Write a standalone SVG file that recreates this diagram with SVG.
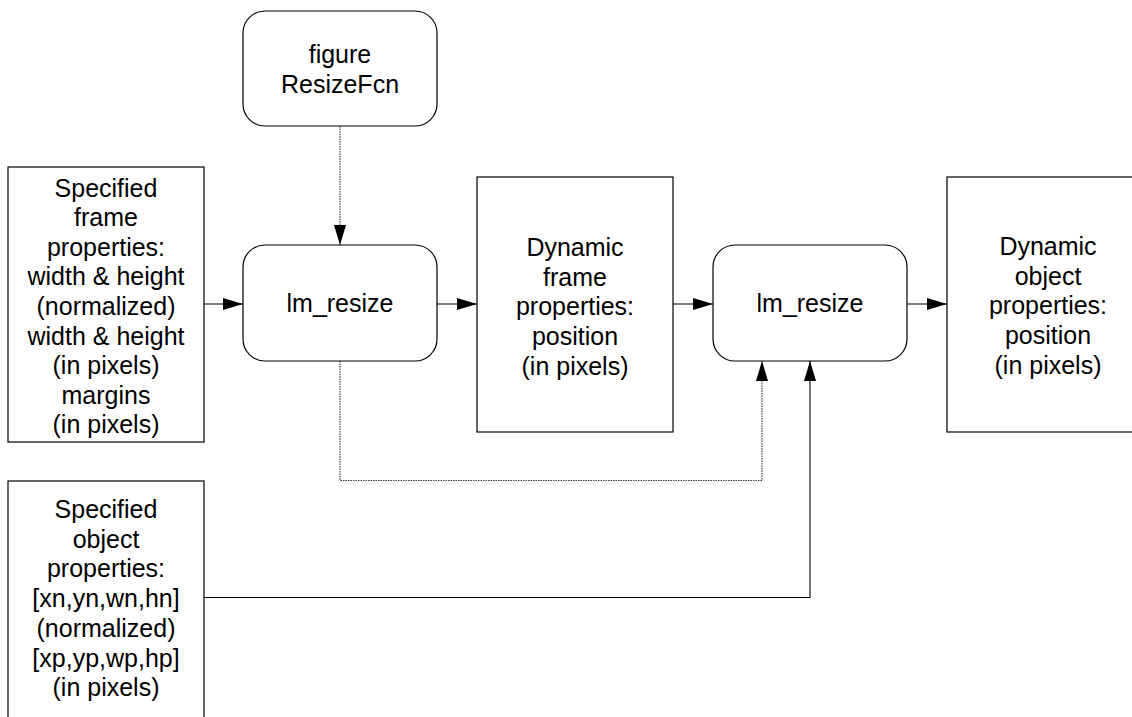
<svg xmlns="http://www.w3.org/2000/svg" width="1132" height="717" viewBox="0 0 1132 717">
<defs>
<style>
.box{fill:#fff;stroke:#000;stroke-width:1.2}
.t{font-family:"Liberation Sans",Arial,sans-serif;font-size:25px;fill:#000;text-anchor:middle}
.c{fill:none;stroke:#000;stroke-width:1.1}
.d{fill:none;stroke:#333;stroke-width:1.1;stroke-dasharray:1.5 1}
</style>
<marker id="ah" markerWidth="20" markerHeight="12" refX="20" refY="6" orient="auto" markerUnits="userSpaceOnUse">
<path d="M0,0 L20,6 L0,12 Z" fill="#000"/>
</marker>
</defs>
<rect width="1132" height="717" fill="#fff"/>
<g id="connectors">
<line class="d" x1="340" y1="126" x2="340" y2="245" marker-end="url(#ah)"/>
<line class="c" x1="204" y1="304" x2="243" y2="304" marker-end="url(#ah)"/>
<line class="c" x1="437" y1="304" x2="477" y2="304" marker-end="url(#ah)"/>
<line class="c" x1="673" y1="304" x2="713" y2="304" marker-end="url(#ah)"/>
<line class="c" x1="907" y1="304" x2="947" y2="304" marker-end="url(#ah)"/>
<polyline class="d" points="340,361 340,480.5 762,480.5 762,361" marker-end="url(#ah)"/>
<polyline class="c" points="204,597.5 810,597.5 810,361" marker-end="url(#ah)"/>
</g>
<g id="figure-resizefcn">
<rect class="box" x="243" y="11" width="194" height="115" rx="22"/>
<text class="t" x="340" y="63">figure<tspan x="340" dy="30">ResizeFcn</tspan></text>
</g>
<g id="specified-frame">
<rect class="box" x="8" y="167" width="196" height="275"/>
<text class="t" x="106" y="196.5">Specified<tspan x="106" dy="29.6">frame</tspan><tspan x="106" dy="29.6">properties:</tspan><tspan x="106" dy="29.6">width &amp; height</tspan><tspan x="106" dy="29.6">(normalized)</tspan><tspan x="106" dy="29.6">width &amp; height</tspan><tspan x="106" dy="29.6">(in pixels)</tspan><tspan x="106" dy="29.6">margins</tspan><tspan x="106" dy="29.6">(in pixels)</tspan></text>
</g>
<g id="lm-resize-1">
<rect class="box" x="243" y="245" width="194" height="116" rx="22"/>
<text class="t" x="340" y="312">lm_resize</text>
</g>
<g id="dynamic-frame">
<rect class="box" x="477" y="177" width="196" height="255"/>
<text class="t" x="575" y="256">Dynamic<tspan x="575" dy="29.7">frame</tspan><tspan x="575" dy="29.7">properties:</tspan><tspan x="575" dy="29.7">position</tspan><tspan x="575" dy="29.7">(in pixels)</tspan></text>
</g>
<g id="lm-resize-2">
<rect class="box" x="713" y="245" width="194" height="116" rx="22"/>
<text class="t" x="810" y="312">lm_resize</text>
</g>
<g id="dynamic-object">
<rect class="box" x="947" y="177" width="200" height="255"/>
<text class="t" x="1048" y="255">Dynamic<tspan x="1048" dy="29.7">object</tspan><tspan x="1048" dy="29.7">properties:</tspan><tspan x="1048" dy="29.7">position</tspan><tspan x="1048" dy="29.7">(in pixels)</tspan></text>
</g>
<g id="specified-object">
<rect class="box" x="8" y="481" width="196" height="250"/>
<text class="t" x="106" y="518">Specified<tspan x="106" dy="29.7">object</tspan><tspan x="106" dy="29.7">properties:</tspan><tspan x="106" dy="29.7">[xn,yn,wn,hn]</tspan><tspan x="106" dy="29.7">(normalized)</tspan><tspan x="106" dy="29.7">[xp,yp,wp,hp]</tspan><tspan x="106" dy="29.7">(in pixels)</tspan></text>
</g>
</svg>
